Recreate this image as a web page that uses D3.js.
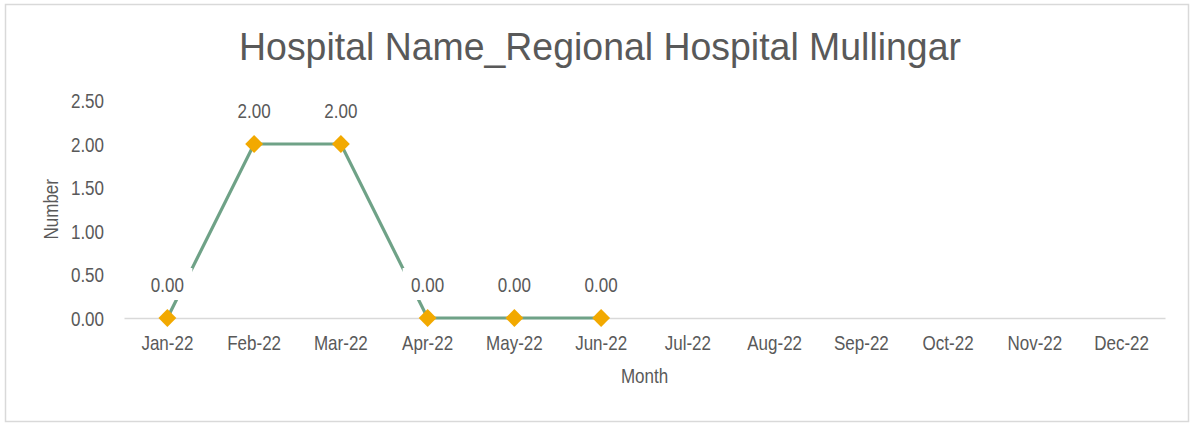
<!DOCTYPE html>
<html>
<head>
<meta charset="utf-8">
<script src="https://cdn.jsdelivr.net/npm/d3@7"></script>
<style>
  body { margin: 0; background: #fff; }
  text { font-family: "Liberation Sans", Arial, sans-serif; fill: #595959; }
</style>
</head>
<body>
<script>
// chart data
var months = ["Jan-22", "Feb-22", "Mar-22", "Apr-22", "May-22", "Jun-22",
              "Jul-22", "Aug-22", "Sep-22", "Oct-22", "Nov-22", "Dec-22"];
var values = [0, 2, 2, 0, 0, 0, null, null, null, null, null, null];
var yTicks = [0, 0.5, 1, 1.5, 2, 2.5];
var chartTitle = "Hospital Name_Regional Hospital Mullingar";

var W = 1195, H = 424;
var margin = {top: 100, right: 30, bottom: 106, left: 124};
var narrow = 0.81;   // squeeze Liberation Sans to look like Arial Narrow

var svg = d3.select("body").append("svg")
    .attr("width", W)
    .attr("height", H);

// outer frame
svg.append("rect")
    .attr("x", 5.5).attr("y", 4.5)
    .attr("width", 1183).attr("height", 417)
    .attr("fill", "#fff")
    .attr("stroke", "#d9d9d9")
    .attr("stroke-width", 1.5);

var x = d3.scaleBand()
    .domain(months)
    .range([margin.left, 1165]);

var y = d3.scaleLinear()
    .domain([0, 2.5])
    .range([318, 100.5]);

// title
svg.append("text")
    .attr("transform", "translate(600,60) scale(0.96,1)")
    .attr("text-anchor", "middle")
    .style("font-size", "39px")
    .text(chartTitle);

// y axis labels
var yAxis = svg.append("g")
    .attr("transform", "translate(" + (margin.left - 8) + ",0)")
    .call(d3.axisLeft(y).tickValues(yTicks).tickSize(0)
      .tickFormat(d3.format(".2f")));
yAxis.select(".domain").remove();
yAxis.selectAll("text")
    .style("font-size", "21px")
    .attr("fill", "#595959")
    .attr("x", -12 / narrow)
    .attr("dy", "0.35em")
    .attr("transform", "scale(" + narrow + ",1)");

// x axis
var xAxis = svg.append("g")
    .attr("transform", "translate(0," + y(0) + ")")
    .call(d3.axisBottom(x).tickSize(0).tickPadding(17));
xAxis.select(".domain")
    .attr("stroke", "#d9d9d9")
    .attr("stroke-width", 1.5);
xAxis.selectAll("text")
    .style("font-size", "21px")
    .attr("fill", "#595959")
    .attr("transform", "scale(" + narrow + ",1)");

// axis titles
svg.append("text")
    .attr("transform", "translate(58," + y(1.25) + ") rotate(-90) scale(" + narrow + ",1)")
    .attr("text-anchor", "middle")
    .style("font-size", "21px")
    .text("Number");

svg.append("text")
    .attr("transform", "translate(" + ((margin.left + 1165) / 2) + ",383) scale(" + narrow + ",1)")
    .attr("text-anchor", "middle")
    .style("font-size", "21px")
    .text("Month");

var pts = months.map(function(m, i) { return {month: m, value: values[i]}; })
    .filter(function(d) { return d.value !== null; });

var line = d3.line()
    .x(function(d) { return x(d.month) + x.bandwidth() / 2; })
    .y(function(d) { return y(d.value); });

svg.append("path")
    .datum(pts)
    .attr("d", line)
    .attr("fill", "none")
    .attr("stroke", "#6fa287")
    .attr("stroke-width", 3.2);

// data labels (white box hides the line behind, like excel)
var labels = svg.selectAll("g.lbl")
    .data(pts)
    .enter().append("g")
    .attr("class", "lbl")
    .attr("transform", function(d) {
      return "translate(" + (x(d.month) + x.bandwidth() / 2) + "," + (y(d.value) - 33) + ")";
    });

labels.append("rect")
    .attr("x", -25).attr("y", -17)
    .attr("width", 50).attr("height", 32)
    .attr("fill", "#fff");

labels.append("text")
    .attr("text-anchor", "middle")
    .attr("dy", "0.35em")
    .attr("transform", "scale(" + narrow + ",1)")
    .style("font-size", "21px")
    .text(function(d) { return d3.format(".2f")(d.value); });

// markers
svg.selectAll("path.mark")
    .data(pts)
    .enter().append("path")
    .attr("class", "mark")
    .attr("d", d3.symbol().type(d3.symbolSquare).size(160))
    .attr("transform", function(d) {
      return "translate(" + (x(d.month) + x.bandwidth() / 2) + "," + y(d.value) + ") rotate(45)";
    })
    .attr("fill", "#f2a900");
</script>
</body>
</html>
